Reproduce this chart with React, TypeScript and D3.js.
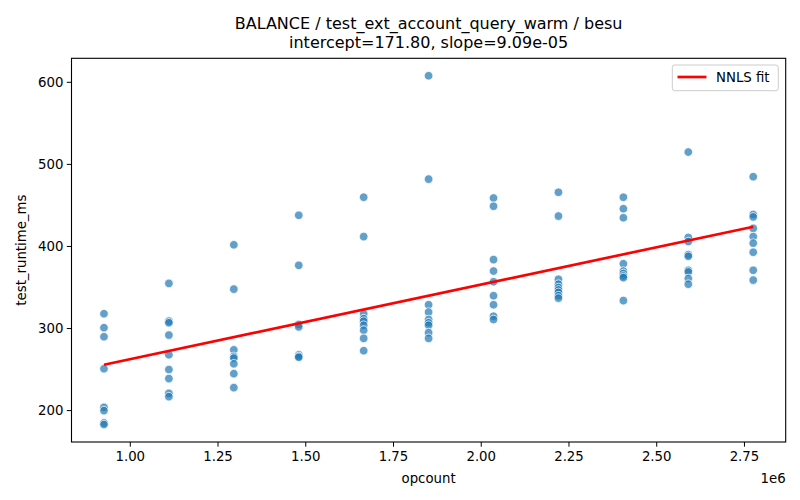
import React from "react";
import * as d3 from "d3";

const opcounts = [925000, 1110000, 1295000, 1480000, 1665000, 1850000, 2035000, 2220000, 2405000, 2590000, 2775000];
const runtimes: number[][] = [
  [318, 301, 290, 251, 204, 200, 185, 183],
  [355, 309, 307, 292, 268, 250, 239, 221, 217],
  [402, 348, 274, 266, 264, 257, 245, 228],
  [438, 377, 305, 302, 268, 266, 265],
  [460, 412, 318, 312, 309, 304, 298, 288, 273],
  [608, 482, 329, 320, 311, 307, 304, 295, 288],
  [459, 449, 384, 370, 357, 340, 329, 315, 311],
  [466, 437, 360, 354, 350, 347, 344, 340, 337],
  [460, 446, 435, 379, 370, 367, 364, 362, 334],
  [515, 411, 406, 390, 388, 371, 369, 361, 354],
  [485, 439, 436, 422, 412, 404, 393, 371, 359],
];
const intercept = 171.8;
const slope = 9.09e-5;
const xTicks = [1.0e6, 1.25e6, 1.5e6, 1.75e6, 2.0e6, 2.25e6, 2.5e6, 2.75e6];
const yTicks = [200, 300, 400, 500, 600];
const titleLines = ["BALANCE / test_ext_account_query_warm / besu", "intercept=171.80, slope=9.09e-05"];

const W = 800, H = 500;
const L = 71.5, R = 785.7, T = 58.3, B = 442;
const FONT = "DejaVu Sans, sans-serif";

export default function App() {
  const points = opcounts.flatMap((x, i) => runtimes[i].map((y) => ({ x, y })));
  const xmin = d3.min(opcounts)!, xmax = d3.max(opcounts)!;
  const ymin = d3.min(points, (d) => d.y)!, ymax = d3.max(points, (d) => d.y)!;
  const xp = (xmax - xmin) * 0.05, yp = (ymax - ymin) * 0.05;
  const x = d3.scaleLinear().domain([xmin - xp, xmax + xp]).range([L, R]);
  const y = d3.scaleLinear().domain([ymin - yp, ymax + yp]).range([B, T]);
  const line = d3.line<number>().x((v) => x(v)).y((v) => y(intercept + slope * v));
  const cx = (L + R) / 2;
  return (
    <svg width={W} height={H} style={{ position: "absolute", left: 0, top: 0, background: "#fff" }} fontFamily={FONT}>
      <rect x={0} y={0} width={W} height={H} fill="#fff" />
      {titleLines.map((t, i) => (
        <text key={i} x={cx} y={29 + i * 19} textAnchor="middle" fontSize={16} fill="#000">{t}</text>
      ))}
      {points.map((p, i) => (
        <circle key={i} cx={x(p.x)} cy={y(p.y)} r={4.3} fill="#1f77b4" fillOpacity={0.7} stroke="#fff" strokeWidth={0.75} />
      ))}
      <path d={line([xmin, xmax]) || ""} stroke="#ff0000" strokeWidth={2.67} fill="none" />
      <rect x={L} y={T} width={R - L} height={B - T} fill="none" stroke="#000" strokeWidth={1.1} />
      {xTicks.map((t) => (
        <g key={t}>
          <line x1={x(t)} x2={x(t)} y1={B} y2={B + 4.7} stroke="#000" strokeWidth={1} />
          <text x={x(t)} y={B + 19} textAnchor="middle" fontSize={13.3} fill="#000">{(t / 1e6).toFixed(2)}</text>
        </g>
      ))}
      {yTicks.map((t) => (
        <g key={t}>
          <line x1={L - 4.7} x2={L} y1={y(t)} y2={y(t)} stroke="#000" strokeWidth={1} />
          <text x={L - 8} y={y(t) + 4.8} textAnchor="end" fontSize={13.3} fill="#000">{t}</text>
        </g>
      ))}
      <text x={R} y={483} textAnchor="end" fontSize={13.3} fill="#000">1e6</text>
      <text x={cx} y={483} textAnchor="middle" fontSize={13.3} fill="#000">opcount</text>
      <text transform={`translate(26,${(T + B) / 2}) rotate(-90)`} textAnchor="middle" fontSize={13.3} fill="#000">test_runtime_ms</text>
      <g>
        <rect x={672.3} y={65} width={106} height={25.7} rx={2.5} fill="#fff" fillOpacity={0.8} stroke="#cccccc" strokeWidth={1} />
        <line x1={677.5} x2={706.5} y1={77} y2={77} stroke="#ff0000" strokeWidth={2.67} />
        <text x={716} y={82} fontSize={13.3} fill="#000">NNLS fit</text>
      </g>
    </svg>
  );
}
